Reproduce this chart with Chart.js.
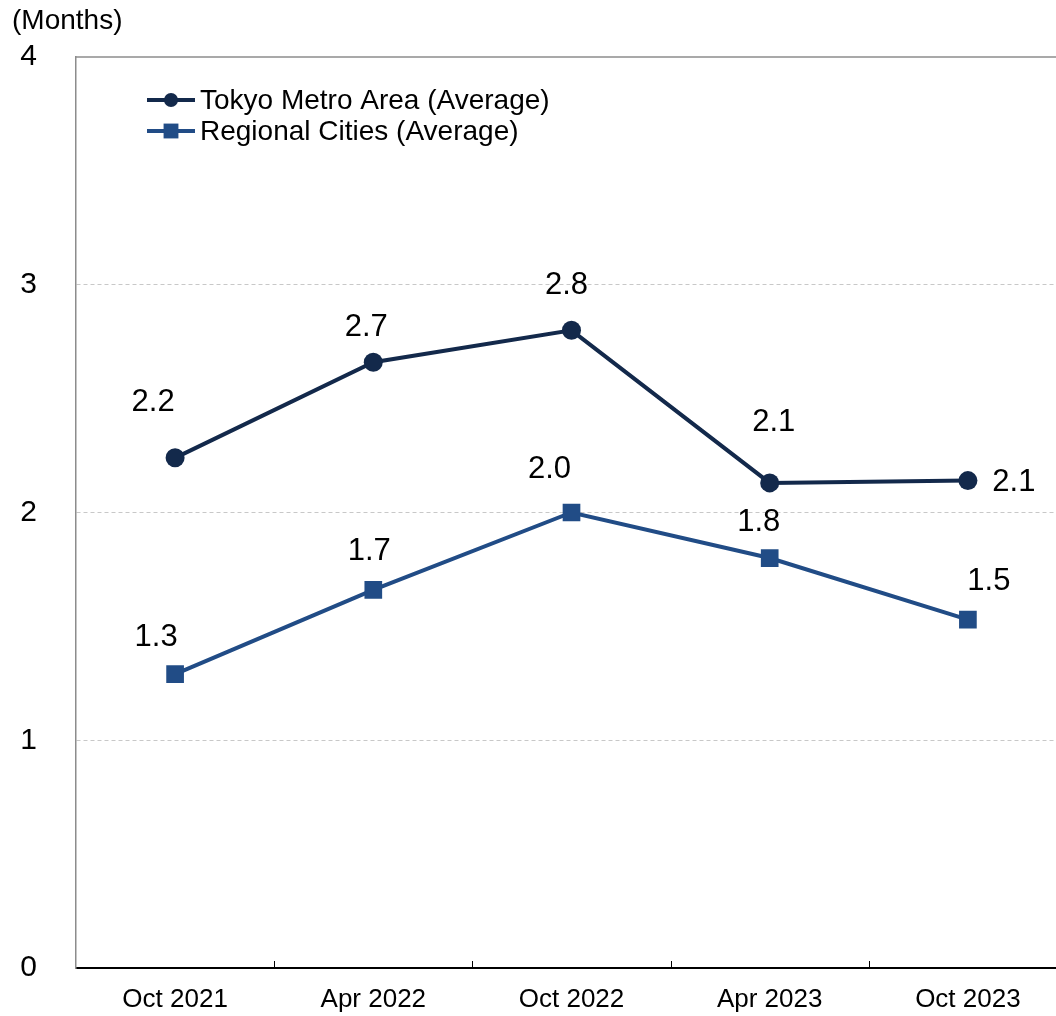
<!DOCTYPE html>
<html>
<head>
<meta charset="utf-8">
<script src="https://cdn.jsdelivr.net/npm/chart.js@4.4.1/dist/chart.umd.min.js"></script>
<style>
  html, body { margin: 0; padding: 0; background: #fff; overflow: hidden; }
  canvas { display: block; }
</style>
</head>
<body>
<!-- plot runs a little past the right edge of the window -->
<canvas id="monthsChart" width="1067" height="1016"></canvas>
<script>
var periods = ['Oct 2021', 'Apr 2022', 'Oct 2022', 'Apr 2023', 'Oct 2023'];
var tokyoMonths = [2.24, 2.66, 2.80, 2.13, 2.14];
var regionalMonths = [1.29, 1.66, 2.00, 1.80, 1.53];
var yTicks = [0, 1, 2, 3, 4];

// pixel nudges for the value labels, per point
var tokyoLabelShift = [[-22, -55], [-7, -35], [-5, -45], [4, -60], [46, 2]];
var regionalLabelShift = [[-19, -37], [-4, -38], [-22, -43], [-11, -36], [21, -38]];

var FONT = '"Liberation Sans", Arial, sans-serif';
var TOKYO = '#13294b';
var REGIONAL = '#214c86';

var valueLabels = {
  id: 'valueLabels',
  afterDatasetsDraw: function(chart) {
    var ctx = chart.ctx;
    var shifts = [tokyoLabelShift, regionalLabelShift];
    ctx.save();
    ctx.font = '31px ' + FONT;
    ctx.fillStyle = '#000';
    ctx.textAlign = 'center';
    ctx.textBaseline = 'middle';
    chart.data.datasets.forEach(function(ds, di) {
      chart.getDatasetMeta(di).data.forEach(function(pt, i) {
        var s = shifts[di][i];
        ctx.fillText(ds.data[i].toFixed(1), pt.x + s[0], pt.y + s[1]);
      });
    });
    ctx.restore();
  }
};

var frameAndKey = {
  id: 'frameAndKey',
  beforeDatasetsDraw: function(chart) {
    var ctx = chart.ctx;
    var a = chart.chartArea;
    var x = chart.scales.x;
    ctx.save();
    // top frame line
    ctx.strokeStyle = '#8c8c8c';
    ctx.lineWidth = 1.5;
    ctx.beginPath();
    ctx.moveTo(a.left, a.top);
    ctx.lineTo(a.right, a.top);
    ctx.stroke();
    // small inward tick marks between categories
    ctx.strokeStyle = '#000';
    ctx.lineWidth = 1;
    for (var i = 0; i < periods.length - 1; i++) {
      var px = Math.round((x.getPixelForValue(i) + x.getPixelForValue(i + 1)) / 2) + 0.5;
      ctx.beginPath();
      ctx.moveTo(px, a.bottom);
      ctx.lineTo(px, a.bottom - 7);
      ctx.stroke();
    }
    ctx.restore();
  },
  afterDraw: function(chart) {
    var ctx = chart.ctx;
    ctx.save();
    ctx.font = '28px ' + FONT;
    ctx.fillStyle = '#000';
    ctx.textBaseline = 'middle';
    ctx.fillText('(Months)', 12, 21);
    // legend inside the plot
    var rows = [100, 131];
    chart.data.datasets.forEach(function(ds, di) {
      var y = rows[di];
      ctx.strokeStyle = ds.borderColor;
      ctx.lineWidth = 4;
      ctx.beginPath();
      ctx.moveTo(147, y);
      ctx.lineTo(195, y);
      ctx.stroke();
      ctx.fillStyle = ds.borderColor;
      Chart.helpers.drawPoint(ctx, {
        pointStyle: ds.pointStyle,
        radius: ds.pointStyle === 'rect' ? 10.5 : 7,
        rotation: 0,
        borderWidth: 0
      }, 171, y);
      ctx.fillStyle = '#000';
      ctx.fillText(ds.label, 200, y + 1);
    });
    ctx.restore();
  }
};

document.addEventListener('DOMContentLoaded', function() {
  var ctx = document.getElementById('monthsChart').getContext('2d');
  new Chart(ctx, {
    type: 'line',
    data: {
      labels: periods,
      datasets: [{
        label: 'Tokyo Metro Area (Average)',
        data: tokyoMonths,
        borderColor: TOKYO,
        backgroundColor: TOKYO,
        borderWidth: 4,
        pointStyle: 'circle',
        pointRadius: 9.5,
        pointHoverRadius: 9.5,
        pointBorderWidth: 0
      }, {
        label: 'Regional Cities (Average)',
        data: regionalMonths,
        borderColor: REGIONAL,
        backgroundColor: REGIONAL,
        borderWidth: 4,
        pointStyle: 'rect',
        pointRadius: 12.5,
        pointHoverRadius: 12.5,
        pointBorderWidth: 0
      }]
    },
    options: {
      responsive: false,
      animation: false,
      layout: { autoPadding: false, padding: { top: 57, left: 0, right: 0, bottom: 0 } },
      plugins: {
        legend: { display: false },
        tooltip: { enabled: false }
      },
      scales: {
        x: {
          type: 'category',
          offset: true,
          grid: { display: false, drawTicks: false },
          border: { color: '#000', width: 2 },
          ticks: { color: '#000', font: { family: FONT, size: 26 }, padding: 16, maxRotation: 0 },
          afterFit: function(scale) {
            scale.height = 48;
            scale.paddingLeft = 0;
            scale.paddingRight = 0;
          }
        },
        y: {
          min: 0,
          max: 4,
          afterBuildTicks: function(scale) {
            scale.ticks = yTicks.map(function(v) { return { value: v }; });
          },
          grid: {
            drawTicks: false,
            lineWidth: 1,
            color: function(c) {
              var v = c.tick ? c.tick.value : 0;
              return (v > 0 && v < 4) ? '#c8c8c8' : 'rgba(0,0,0,0)';
            }
          },
          border: { color: '#8c8c8c', width: 1.5, dash: [4, 3] },
          ticks: { color: '#000', font: { family: FONT, size: 30 }, padding: 39 },
          afterFit: function(scale) {
            scale.width = 76;
            scale.paddingTop = 0;
            scale.paddingBottom = 0;
          }
        }
      }
    },
    plugins: [frameAndKey, valueLabels]
  });
});
</script>
</body>
</html>
